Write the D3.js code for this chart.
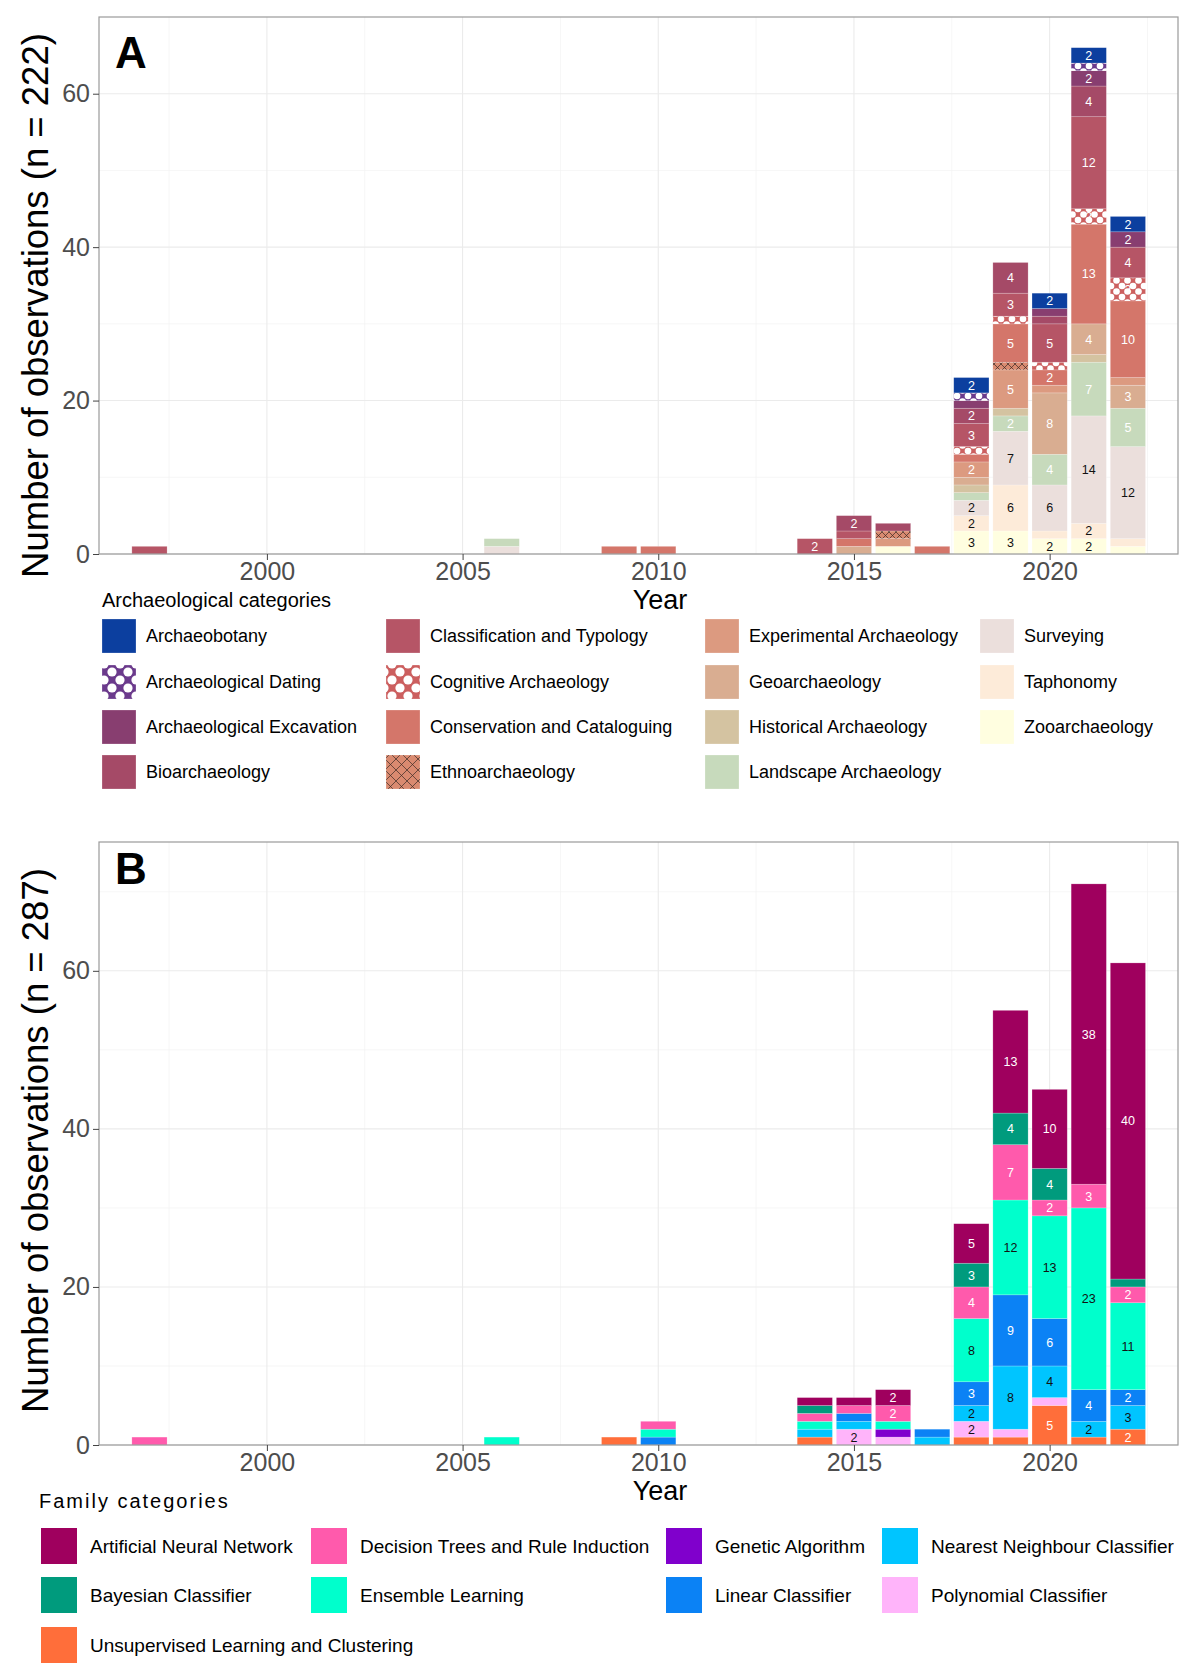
<!DOCTYPE html>
<html>
<head>
<meta charset="utf-8">
<script src="https://cdn.jsdelivr.net/npm/d3@7"></script>
<style>
  body { margin: 0; background: #fff; }
  svg { display: block; font-family: "Liberation Sans", Arial, sans-serif; }
</style>
</head>
<body>
<div id="chart"></div>
<script>
// years that have at least one observation
var years = [1997, 2006, 2009, 2010, 2014, 2015, 2016, 2017, 2018, 2019, 2020, 2021, 2022];

// panel A : archaeological categories (alphabetical = stack order top -> bottom)
var catsA = ["Archaeobotany", "Archaeological Dating", "Archaeological Excavation", "Bioarchaeology",
  "Classification and Typology", "Cognitive Archaeology", "Conservation and Cataloguing", "Ethnoarchaeology",
  "Experimental Archaeology", "Geoarchaeology", "Historical Archaeology", "Landscape Archaeology",
  "Surveying", "Taphonomy", "Zooarchaeology"];
var archaeobotany  = [0,0,0,0,0,0,0,0,2,0,2,2,2];
var dating         = [0,0,0,0,0,0,0,0,1,0,0,1,0];
var excavation     = [0,0,0,0,0,0,0,0,1,0,1,2,2];
var bioarch        = [0,0,0,0,0,2,1,0,2,4,1,4,0];
var classification = [1,0,0,0,2,1,0,0,3,3,5,12,4];
var cognitive      = [0,0,0,0,0,0,0,0,1,1,1,2,3];
var conservation   = [0,0,1,1,0,1,0,1,1,5,2,13,10];
var ethno          = [0,0,0,0,0,0,1,0,0,1,0,0,0];
var experimental   = [0,0,0,0,0,0,1,0,2,5,1,0,1];
var geoarch        = [0,0,0,0,0,1,0,0,1,0,8,4,3];
var historical     = [0,0,0,0,0,0,0,0,1,1,0,1,0];
var landscape      = [0,1,0,0,0,0,0,0,1,2,4,7,5];
var surveying      = [0,1,0,0,0,0,0,0,2,7,6,14,12];
var taphonomy      = [0,0,0,0,0,0,0,0,2,6,1,2,1];
var zooarch        = [0,0,0,0,0,0,1,0,3,3,2,2,1];
var seriesA = [archaeobotany, dating, excavation, bioarch, classification, cognitive, conservation,
  ethno, experimental, geoarch, historical, landscape, surveying, taphonomy, zooarch];

// panel B : ML family categories
var catsB = ["Artificial Neural Network", "Bayesian Classifier", "Decision Trees and Rule Induction",
  "Ensemble Learning", "Genetic Algorithm", "Linear Classifier", "Nearest Neighbour Classifier",
  "Polynomial Classifier", "Unsupervised Learning and Clustering"];
var ann          = [0,0,0,0,1,1,2,0,5,13,10,38,40];
var bayesian     = [0,0,0,0,1,0,0,0,3,4,4,0,1];
var decisionTree = [1,0,0,1,1,1,2,0,4,7,2,3,2];
var ensemble     = [0,1,0,1,1,0,1,0,8,12,13,23,11];
var genetic      = [0,0,0,0,0,0,1,0,0,0,0,0,0];
var linear       = [0,0,0,1,0,1,0,1,3,9,6,4,2];
var nearest      = [0,0,0,0,1,1,0,1,2,8,4,2,3];
var polynomial   = [0,0,0,0,0,2,1,0,2,1,1,0,0];
var unsupervised = [0,0,1,0,1,0,0,0,1,1,5,1,2];
var seriesB = [ann, bayesian, decisionTree, ensemble, genetic, linear, nearest, polynomial, unsupervised];

var xTicks = [2000, 2005, 2010, 2015, 2020];

// ---- styling ----
var colorsA = ["#0c3f9f", "#6b3a8c", "#883e70", "#a54a67", "#b65566", "#cc5f5f", "#d4766a", "#d98a70",
  "#dc9a80", "#d9ad91", "#d4c3a1", "#c7dabc", "#ebdfdc", "#fdebd9", "#fffee0"];
var fillA = colorsA.slice();
fillA[1] = "url(#dotsDating)";
fillA[5] = "url(#dotsCognitive)";
fillA[7] = "url(#hatchEthno)";
// legend keys use a coarser version of the patterns
var keyFillA = colorsA.slice();
keyFillA[1] = "url(#dotsDatingKey)";
keyFillA[5] = "url(#dotsCognitiveKey)";
keyFillA[7] = "url(#hatchEthnoKey)";
var darkTextA = ["Surveying", "Taphonomy", "Zooarchaeology"];

var colorsB = ["#9f005e", "#009b7d", "#ff5aac", "#00ffcc", "#8000cc", "#0b82f5", "#00c5ff", "#ffb4fa", "#ff6e3a"];
var darkTextB = ["Ensemble Learning", "Nearest Neighbour Classifier", "Polynomial Classifier"];

var W = 1200, H = 1673;
var svg = d3.select("#chart").append("svg").attr("width", W).attr("height", H);

var defs = svg.append("defs");
function dots(id, base, s, r) {
  var p = defs.append("pattern").attr("id", id).attr("patternUnits", "userSpaceOnUse")
    .attr("width", s).attr("height", s);
  p.append("rect").attr("width", s).attr("height", s).attr("fill", base);
  [[0,0],[s,0],[0,s],[s,s],[s/2,s/2]].forEach(function(c) {
    p.append("circle").attr("cx", c[0]).attr("cy", c[1]).attr("r", r).attr("fill", "#fff");
  });
}
function hatch(id, base, s) {
  var p = defs.append("pattern").attr("id", id).attr("patternUnits", "userSpaceOnUse")
    .attr("width", s).attr("height", s);
  p.append("rect").attr("width", s).attr("height", s).attr("fill", base);
  p.append("path").attr("d", "M0,0L" + s + "," + s + "M" + s + ",0L0," + s)
    .attr("stroke", "#3a2a25").attr("stroke-width", 0.7);
}
dots("dotsDating", colorsA[1], 11, 3.3);
dots("dotsCognitive", colorsA[5], 11, 3.3);
dots("dotsDatingKey", colorsA[1], 16, 4.6);
dots("dotsCognitiveKey", colorsA[5], 16, 4.6);
hatch("hatchEthno", colorsA[7], 7);
hatch("hatchEthnoKey", colorsA[7], 11);

var x = d3.scaleLinear().domain([1995.71, 2023.28]).range([99, 1178]);
var barW = x(0.9) - x(0);

function panel(o) {
  var y = o.y;
  var g = svg.append("g");
  var top = y.range()[1], bottom = y.range()[0];
  var left = x.range()[0], right = x.range()[1];

  // grid
  var minorX = d3.range(1997.5, 2023, 5);
  g.selectAll(".mx").data(minorX).join("line")
    .attr("x1", d => x(d)).attr("x2", d => x(d)).attr("y1", top).attr("y2", bottom)
    .attr("stroke", "#f2f2f2").attr("stroke-width", 0.7);
  var minorY = [10, 30, 50, 70].filter(d => d < y.domain()[1]);
  g.selectAll(".my").data(minorY).join("line")
    .attr("x1", left).attr("x2", right).attr("y1", d => y(d)).attr("y2", d => y(d))
    .attr("stroke", "#f2f2f2").attr("stroke-width", 0.7);
  g.selectAll(".gx").data(xTicks).join("line")
    .attr("x1", d => x(d)).attr("x2", d => x(d)).attr("y1", top).attr("y2", bottom)
    .attr("stroke", "#ebebeb").attr("stroke-width", 1.1);
  g.selectAll(".gy").data([0, 20, 40, 60]).join("line")
    .attr("x1", left).attr("x2", right).attr("y1", d => y(d)).attr("y2", d => y(d))
    .attr("stroke", "#ebebeb").attr("stroke-width", 1.1);

  // stacked bars
  var rows = years.map(function(yr, i) {
    var r = { year: yr };
    o.cats.forEach(function(c, j) { r[c] = o.series[j][i]; });
    return r;
  });
  var stack = d3.stack().keys(o.cats.slice().reverse())(rows);
  stack.forEach(function(layer) {
    var k = layer.key, idx = o.cats.indexOf(k);
    var seg = g.append("g");
    seg.selectAll("rect").data(layer.filter(d => d[1] > d[0])).join("rect")
      .attr("x", d => x(d.data.year) - barW / 2).attr("width", barW)
      .attr("y", d => y(d[1])).attr("height", d => y(d[0]) - y(d[1]))
      .attr("fill", o.fills[idx])
      .attr("stroke", "rgba(255,255,255,0.35)").attr("stroke-width", 0.6);
    seg.selectAll("text").data(layer.filter(d => d[1] - d[0] >= 2)).join("text")
      .attr("x", d => x(d.data.year)).attr("y", d => y((d[0] + d[1]) / 2))
      .attr("dy", "0.36em").attr("text-anchor", "middle")
      .attr("font-size", 12.5)
      .attr("fill", o.dark.indexOf(k) >= 0 ? "#111" : "#fff")
      .text(d => d[1] - d[0]);
  });

  // border
  g.append("rect").attr("x", left).attr("y", top).attr("width", right - left).attr("height", bottom - top)
    .attr("fill", "none").attr("stroke", "#9a9a9a").attr("stroke-width", 1.2);

  // axes
  var ax = g.append("g").attr("transform", "translate(0," + bottom + ")")
    .call(d3.axisBottom(x).tickValues(xTicks).tickFormat(d3.format("d")).tickSize(6).tickPadding(2).tickSizeOuter(0));
  var ay = g.append("g").attr("transform", "translate(" + left + ",0)")
    .call(d3.axisLeft(y).tickValues([0, 20, 40, 60]).tickSize(6).tickPadding(3).tickSizeOuter(0));
  [ax, ay].forEach(function(a) {
    a.select(".domain").remove();
    a.selectAll("line").attr("stroke", "#444");
    a.selectAll("text").attr("font-size", 25).attr("fill", "#4d4d4d")
      .attr("font-family", "Liberation Sans, Arial, sans-serif");
  });

  svg.append("text").attr("x", 660).attr("y", bottom + 55).attr("text-anchor", "middle")
    .attr("font-size", 27).attr("fill", "#000").text("Year");
  svg.append("text").attr("transform", "translate(48," + ((top + bottom) / 2 + o.titleShift) + ") rotate(-90)")
    .attr("text-anchor", "middle").attr("font-size", 36.5).attr("fill", "#000").text(o.ytitle);
  svg.append("text").attr("x", 115).attr("y", top + o.letterDy).attr("font-size", 44).attr("font-weight", "bold")
    .attr("fill", "#000").text(o.letter);
}

var yA = d3.scaleLinear().domain([0, 70]).range([554, 17]);
var yB = d3.scaleLinear().domain([0, 76.3]).range([1445, 842]);

panel({ y: yA, cats: catsA, series: seriesA, fills: fillA, dark: darkTextA,
  letter: "A", letterDy: 51, titleShift: 20, ytitle: "Number of observations (n = 222)" });
panel({ y: yB, cats: catsB, series: seriesB, fills: colorsB, dark: darkTextB,
  letter: "B", letterDy: 42, titleShift: -3, ytitle: "Number of observations (n = 287)" });

// legend A : 4 columns, filled column by column
var legA = svg.append("g");
legA.append("text").attr("x", 102).attr("y", 607).attr("font-size", 20).attr("fill", "#000")
  .text("Archaeological categories");
var colXA = [102, 386, 705, 980], rowYA = [636, 682, 727, 772];
catsA.forEach(function(c, i) {
  var cx = colXA[Math.floor(i / 4)], cy = rowYA[i % 4];
  legA.append("rect").attr("x", cx).attr("y", cy - 17).attr("width", 34).attr("height", 34)
    .attr("fill", keyFillA[i]).attr("stroke", "rgba(255,255,255,0.4)").attr("stroke-width", 0.6);
  legA.append("text").attr("x", cx + 44).attr("y", cy).attr("dy", "0.35em")
    .attr("font-size", 18).attr("fill", "#000").text(c);
});

// legend B
var legB = svg.append("g");
legB.append("text").attr("x", 39).attr("y", 1508).attr("font-size", 20).attr("letter-spacing", 2)
  .attr("fill", "#000").text("Family categories");
var posB = [[0,0],[0,1],[1,0],[1,1],[2,0],[2,1],[3,0],[3,1],[0,2]];
var colXB = [41, 311, 666, 882], rowYB = [1546, 1595, 1645];
catsB.forEach(function(c, i) {
  var cx = colXB[posB[i][0]], cy = rowYB[posB[i][1]];
  legB.append("rect").attr("x", cx).attr("y", cy - 18).attr("width", 36).attr("height", 36)
    .attr("fill", colorsB[i]);
  legB.append("text").attr("x", cx + 49).attr("y", cy).attr("dy", "0.35em")
    .attr("font-size", 19).attr("fill", "#000").text(c);
});
</script>
</body>
</html>
